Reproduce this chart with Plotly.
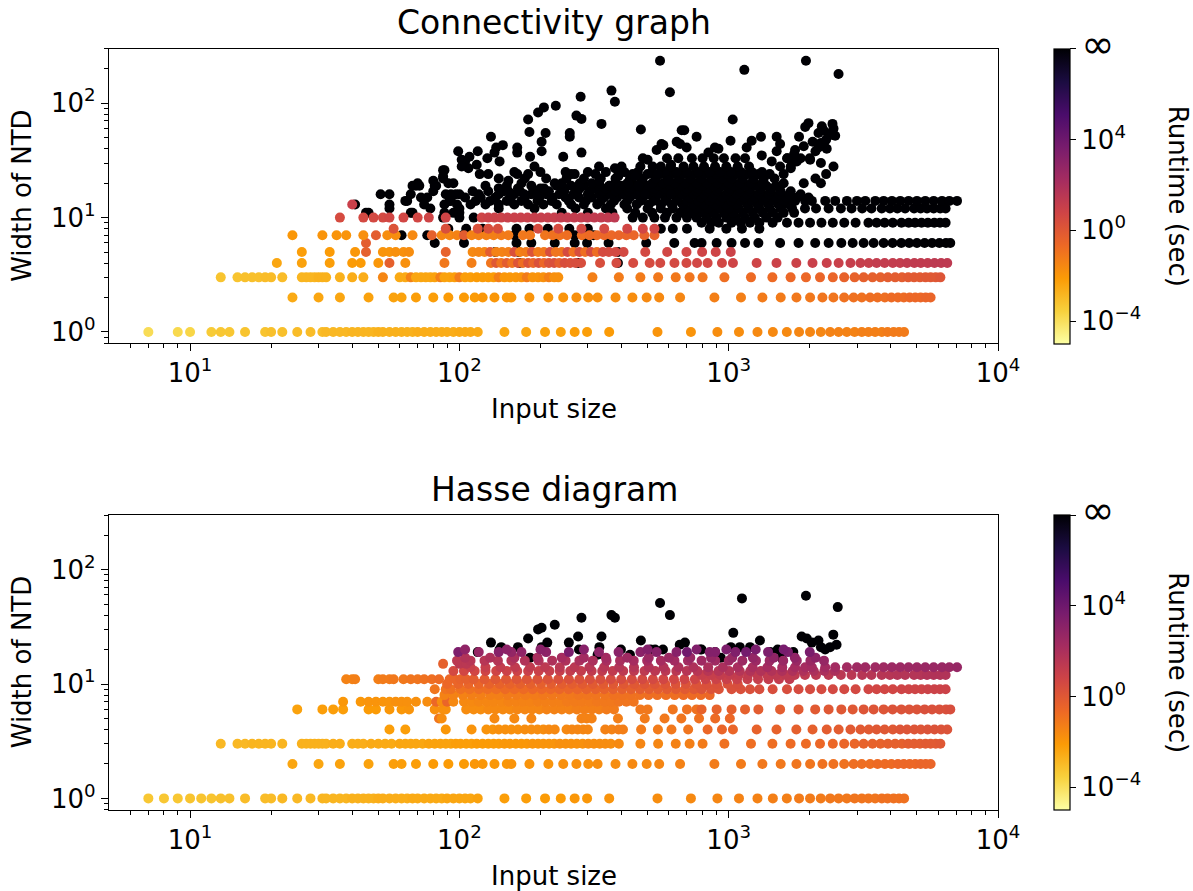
import math
import plotly.graph_objects as go

FONT = "DejaVu Sans"
TIMEOUT = 8  # log10 runtime used for runs that hit the time limit (drawn as "infinity")

# ---------------- Connectivity graph: (input size, log10 runtime) per NTD width ----------------
CONN_W1 = [(7, -3.9), (9, -3.8), (10, -3.7), (12, -3.4), (13, -3.3), (14, -3.3), (16, -3.2), (19, -3.2),
           (20, -3.1), (22, -3.1), (25, -3.0), (28, -3.0), (31, -3.0), (32, -2.9), (34, -2.9), (36, -2.9),
           (38, -2.9), (40, -2.8), (42, -2.8), (44, -2.8), (46, -2.8), (48, -2.8), (50, -2.7), (52, -2.7),
           (55, -2.7), (58, -2.7), (61, -2.7), (64, -2.7), (67, -2.7), (70, -2.6), (74, -2.6), (78, -2.6),
           (82, -2.6), (86, -2.6), (90, -2.6), (95, -2.6), (100, -2.5), (105, -2.5), (110, -2.5), (117, -2.5),
           (147, -2.4), (177, -2.4), (208, -2.3), (238, -2.3), (268, -2.2), (298, -2.2), (360, -2.1),
           (544, -1.9), (724, -1.9), (908, -1.7), (1092, -1.7), (1279, -1.6), (1459, -1.6), (1644, -1.6),
           (1825, -1.5), (2005, -1.5), (2197, -1.5), (2381, -1.4), (2559, -1.4), (2746, -1.4), (2934, -1.4),
           (3121, -1.3), (3303, -1.3), (3497, -1.3), (3704, -1.3), (3890, -1.2), (4096, -1.2), (4290, -1.2),
           (4480, -1.2)]
CONN_W2 = [(24, -2.5), (30, -2.4), (36, -2.4), (46, -2.3), (57, -2.3), (61, -2.3), (69, -2.2), (80, -2.2),
           (91, -2.1), (104, -2.1), (114, -2.1), (122, -2.0), (135, -2.0), (150, -2.0), (156, -2.0),
           (182, -1.9), (214, -1.9), (243, -1.9), (272, -1.8), (301, -1.8), (326, -1.8), (380, -1.7),
           (439, -1.7), (496, -1.6), (552, -1.6), (660, -1.5), (885, -1.3), (1111, -1.3), (1334, -1.2),
           (1560, -1.2), (1785, -1.1), (2006, -1.1), (2229, -1.0), (2448, -1.0), (2684, -0.9), (2910, -0.9),
           (3120, -0.9), (3350, -0.8), (3570, -0.8), (3800, -0.8), (4020, -0.7), (4250, -0.7), (4470, -0.7),
           (4700, -0.6), (4930, -0.6), (5160, -0.6), (5390, -0.5), (5620, -0.5)]
CONN_W3 = [(13, -3.2), (15, -3.2), (16, -3.1), (17, -3.1), (18, -3.1), (19, -3.0), (20, -3.0), (22, -3.0),
           (26, -2.8), (27, -2.8), (28, -2.8), (29, -2.8), (30, -2.7), (31, -2.7), (32, -2.7), (36, -2.7),
           (40, -2.6), (44, -2.6), (52, -1.5), (60, -2.5), (63, -2.5), (66, -1.4), (69, -2.4), (72, -2.4),
           (75, -2.4), (78, -2.4), (81, -2.3), (85, -1.3), (88, -2.3), (92, -2.3), (96, -2.2), (100, -1.2),
           (105, -2.2), (110, -2.2), (116, -2.1), (122, -2.1), (128, -2.1), (134, -2.1), (140, -1.3),
           (147, -2.0), (154, -2.0), (162, -2.0), (170, -1.9), (178, -1.2), (187, -1.9), (196, -1.9),
           (205, -1.8), (215, -1.3), (225, -1.8), (233, -1.8), (312, -1.3), (391, -1.2), (470, -1.2),
           (547, -1.1), (636, -1.1), (716, -1.0), (800, -1.0), (964, -0.8), (1210, -0.7), (1453, -0.7),
           (1698, -0.6), (1936, -0.6), (2183, -0.5), (2436, -0.5), (2684, -0.4), (2934, -0.4), (3170, -0.3),
           (3420, -0.3), (3660, -0.3), (3900, -0.2), (4150, -0.2), (4400, -0.2), (4640, -0.1), (4880, -0.1),
           (5130, -0.1), (5380, 0.0), (5620, 0.0), (5870, 0.0), (6110, 0.1)]
CONN_W4 = [(21, -2.4), (26, -2.3), (33, -2.2), (40, -2.1), (43, -2.1), (50, -2.0), (55, -0.3), (63, -1.8),
           (88, -1.1), (111, -1.3), (131, -1.0), (137, 0.0), (143, -1.0), (150, -0.2), (157, -1.0), (165, 0.1),
           (172, -0.8), (180, 0.2), (188, -0.5), (197, 0.3), (206, -0.6), (215, 0.2), (225, 0.3), (235, -0.3),
           (246, 0.4), (258, 0.3), (270, 0.4), (283, 0.4), (333, 0.4), (383, 0.5), (442, 0.5), (509, 0.5),
           (557, 0.6), (629, 0.6), (697, 0.6), (763, 0.7), (835, 0.7), (944, 0.7), (1037, 0.8), (1270, 0.8),
           (1505, 0.9), (1783, 0.9), (2048, 1.0), (2312, 1.0), (2560, 1.0), (2833, 1.1), (3085, 1.1),
           (3312, 1.1), (3543, 1.2), (3793, 1.2), (4068, 1.2), (4328, 1.2), (4595, 1.3), (4890, 1.3),
           (5170, 1.3), (5480, 1.3), (5810, 1.4), (6150, 1.4), (6480, 1.4)]
CONN_W5 = [(26, -2.2), (33, -2.1), (41, -2.0), (45, -0.3), (52, -1.9), (55, -1.9), (58, -1.8), (62, -1.8),
           (65, -1.7), (89, -0.4), (112, -1.6), (118, -1.5), (124, -1.5), (130, -0.2), (137, -1.4), (144, -1.4),
           (152, -1.3), (160, 0.3), (168, -1.3), (177, -1.2), (186, 0.2), (196, -1.2), (206, -1.1), (217, 0.4),
           (228, -1.0), (240, -1.0), (252, 0.5), (265, -0.9), (279, 0.4), (293, -0.8), (308, 0.5), (324, -0.8),
           (341, 0.5), (359, 0.5), (380, 0.6), (407, 0.6), (490, 0.6), (591, 0.7), (697, 0.7), (797, 0.8),
           (895, 0.8), (1018, 0.9)]
CONN_W6 = [(45, -0.2)]
CONN_W7 = [(24, -2.0), (31, -1.9), (35, -1.9), (38, -1.9), (44, -1.8), (49, -0.2), (54, -1.7), (58, -1.7),
           (67, -1.6), (79, -0.3), (86, -1.5), (92, -1.5), (98, -1.4), (104, -0.2), (111, -1.4), (118, -1.3),
           (126, -1.3), (134, -1.3), (143, -1.2), (152, -1.2), (172, -1.1), (183, -1.1), (208, -1.0),
           (222, -0.9), (236, -0.9), (251, -0.8), (285, -0.8), (304, -0.7), (324, -0.7), (345, -0.6),
           (367, -0.6), (391, -0.5), (417, -0.5), (444, -0.5), (486, -0.4), (530, -0.4)]
CONN_W8 = [(57, 0.2), (89, 0.3), (117, 0.3), (128, 0.4), (139, 0.4), (196, 0.5), (233, 0.5), (284, 0.6),
           (345, 0.6), (420, 0.7), (480, 0.7), (530, 0.7)]
CONN_W10 = [(36, 0.5), (44, 0.6), (48, 0.6), (52, 0.6), (55, 0.7), (62, 0.7), (70, 0.7), (77, 0.8), (89, 0.8),
            (121, 0.8), (128, 0.9), (135, 0.9), (143, 0.9), (151, 1.0), (160, 1.0), (169, 1.0), (179, 1.0),
            (190, 1.1), (201, 1.1), (213, 1.1), (225, 1.1), (238, 1.2), (252, 1.2), (267, 1.2), (283, 1.2),
            (299, 1.3), (317, 1.3), (336, 1.3), (356, 1.3), (377, 1.4)]
CONN_W13 = [(40, 1.0)]

# timed-out runs (input size only), grouped by width
CONN_TO_W6 = [104, 163, 185, 226, 268, 298, 358, 494, 628, 747, 793, 902, 1025, 1150, 1289, 1552, 1817, 2095,
              2350, 2620, 2887, 3170, 3453, 3762, 4061, 4375, 4680, 5000, 5340, 5690, 6058, 6410, 6650]
CONN_TO_W8 = [106, 122, 163, 182, 213, 256, 300, 560, 620, 700, 850, 980, 1120, 1300]
CONN_TO_W9 = [793, 860, 919, 1025, 1108, 1200, 1300, 1456, 1646, 1817, 2005, 2210, 2436, 2686, 2960, 3303,
              3543, 3793, 4068, 4380, 4660, 4920, 5200, 5490, 5800, 6090, 6390]
CONN_TO_W10 = [113, 440, 480, 530, 580, 640, 700, 760, 830, 900, 980, 1060, 1150, 1250, 1380, 1520]
CONN_TO_W11 = [95, 240, 300, 370, 450, 520, 590, 660, 730, 800, 880, 960, 1040, 1130, 1230, 1340, 1460,
               1600, 1750]
CONN_TO_W12 = [100, 140, 190, 270, 350, 420, 500, 560, 620, 690, 760, 840, 920, 1000, 1090, 1190, 1300, 1420,
               1560, 1720, 1920, 2110, 2350, 2610, 2860, 3130, 3390, 3700, 3970, 4230, 4520, 4880, 5160, 5450,
               5770, 6100, 6390]
CONN_TO_W13 = [88, 98, 110, 125, 140, 160, 180, 205, 230, 260, 290, 325, 365, 410, 455, 505, 560, 615, 675,
               740, 810, 890, 975, 1070, 1170, 1280, 1400, 1530, 1670]
CONN_TO_W14 = [93, 115, 130, 150, 170, 195, 220, 255, 295, 335, 375, 420, 470, 525, 580, 640, 700, 770, 850,
               930, 1020, 1110, 1220, 1340, 1460, 1600, 1764, 1923, 2036, 2282, 2486, 2748, 2994, 3215, 3502,
               3762, 4037, 4335, 4656, 5000, 5370, 5770, 6195, 6595, 7045]
CONN_TO_W15 = [105, 120, 136, 154, 175, 198, 222, 248, 278, 310, 345, 385, 430, 480, 535, 590, 650, 715,
               790, 870, 950, 1040, 1140, 1250, 1370, 1500, 1640, 1800, 1980]
CONN_TO_W16 = [100, 118, 140, 160, 185, 210, 235, 265, 300, 330, 365, 405, 450, 500, 550, 610, 670, 740, 810,
               890, 980, 1070, 1170, 1290, 1410, 1540, 1680, 1850]
CONN_TO_W17 = [112, 128, 146, 168, 190, 215, 245, 275, 305, 340, 380, 425, 470, 520, 575, 630, 690, 760,
               830, 910, 1000, 1100, 1200, 1310, 1430, 1560, 1700]
CONN_TO_W18 = [140, 165, 200, 245, 280, 320, 350, 390, 430, 480, 530, 580, 640, 700, 770, 840, 920, 1010,
               1100, 1200, 1320, 1440]
CONN_TO_W19 = [125, 150, 185, 230, 260, 290, 330, 360, 400, 445, 495, 550, 605, 665, 730, 800, 880, 960,
               1050, 1150, 1260, 1380, 1500]
CONN_TO_W20 = [170, 240, 280, 330, 380, 420, 470, 520, 570, 630, 690, 760, 830, 910, 1000, 1100, 1210, 1330,
               1600, 1900, 2200]
CONN_TO_W22 = [140, 175, 210, 250, 290, 335, 380, 430, 480, 535, 595, 655, 720, 790, 865, 945, 1030, 1130,
               1240, 1350, 1480, 2100]
CONN_TO_W24 = [180, 260, 320, 390, 440, 500, 560, 620, 680, 750, 820, 900, 990, 1080, 1180, 1290, 1420,
               1600, 2300]
CONN_TO_W25 = [160, 200, 300, 350, 410, 460, 520, 580, 640, 700, 770, 850, 930, 1020, 1110, 1220, 1330]
CONN_TO_W28 = [190, 330, 400, 470, 560, 610, 680, 740, 810, 890, 980, 1080, 1190, 1700, 2450]
CONN_TO_W33 = [480, 590, 650, 730, 800, 880, 960, 1060, 1150, 1650, 1850, 2000]
CONN_TO_SCATTER = [(556, 235), (605, 125), (367, 129), (378, 103), (282, 114), (228, 95), (206, 92), (196, 83),
                   (180, 72), (182, 56), (209, 55), (202, 46), (202, 38), (183, 34), (164, 41), (164, 37),
                   (131, 51), (137, 41), (145, 43), (135, 37), (141, 31), (127, 33), (117, 38), (109, 34),
                   (116, 29), (99, 38), (105, 31), (108, 27), (119, 24), (128, 24), (88, 26), (87, 22), (80, 21),
                   (82, 19), (91, 20), (93, 16), (80, 17), (70, 20), (67, 19), (66, 16), (63, 14), (55, 13),
                   (55, 16), (51, 16), (45, 11), (66, 11), (88, 11), (100, 11), (152, 17), (152, 21), (164, 24),
                   (155, 14), (174, 16), (194, 16), (206, 18), (226, 20), (243, 34), (248, 25), (268, 24),
                   (257, 51), (257, 55), (272, 78), (284, 73), (284, 37), (337, 66), (310, 20), (331, 21),
                   (378, 27), (389, 23), (362, 19), (472, 59), (500, 32), (540, 39), (563, 44), (522, 28),
                   (545, 24), (611, 29), (641, 46), (669, 58), (449, 23), (424, 20), (462, 19), (489, 16),
                   (597, 21), (611, 16), (1143, 196), (1936, 235), (2558, 180), (1035, 72), (684, 58),
                   (760, 51), (660, 44), (698, 41), (572, 43), (889, 41), (916, 40), (841, 37), (1016, 47),
                   (1217, 47), (1318, 51), (1166, 41), (1327, 35), (1507, 51), (1552, 44), (1507, 38),
                   (1445, 31), (1552, 28), (1764, 32), (1764, 39), (1825, 51), (1923, 62), (1978, 67),
                   (2155, 55), (2217, 63), (2429, 66), (2486, 52), (2312, 40), (2155, 41), (2006, 32),
                   (1790, 31), (2346, 52), (55, 12), (46, 11), (41, 13), (64, 14), (67, 11), (69, 19), (71, 19),
                   (72, 15), (76, 15), (74, 13), (78, 12), (81, 19), (87, 26), (87, 23), (95, 20), (97, 16),
                   (89, 16), (92, 14), (102, 32), (102, 28), (100, 10), (87, 10), (61, 7), (76, 7), (81, 6),
                   (91, 8), (103, 7), (160, 7), (268, 7), (290, 7), (315, 7), (136, 5), (166, 5), (388, 5),
                   (167, 4), (276, 4), (388, 4), (1700, 27), (1750, 36), (1900, 42), (2050, 46), (2200, 45),
                   (2250, 58), (2400, 55), (2450, 60), (2100, 38), (2300, 48), (2200, 30), (1650, 33)]

# ---------------- Hasse diagram ----------------
HASSE_W1 = [(7, -3.3), (8, -3.3), (9, -3.3), (10, -3.2), (11, -3.2), (12, -3.2), (13, -3.1), (14, -3.1),
            (16, -3.0), (19, -3.0), (20, -3.0), (22, -2.9), (25, -2.9), (28, -2.9), (31, -2.8), (32, -2.8),
            (34, -2.8), (36, -2.8), (38, -2.8), (40, -2.7), (42, -2.7), (44, -2.7), (46, -2.7), (48, -2.7),
            (50, -2.6), (52, -2.6), (55, -2.6), (58, -2.6), (61, -2.6), (64, -2.6), (67, -2.5), (70, -2.5),
            (74, -2.5), (78, -2.5), (82, -2.5), (86, -2.5), (90, -2.4), (95, -2.4), (100, -2.4), (105, -2.4),
            (110, -2.4), (117, -2.3), (147, -2.2), (177, -2.2), (208, -2.1), (238, -2.1), (268, -2.0),
            (298, -2.0), (360, -1.9), (544, -1.7), (724, -1.6), (908, -1.5), (1092, -1.4), (1279, -1.4),
            (1459, -1.3), (1644, -1.3), (1825, -1.2), (2005, -1.2), (2197, -1.2), (2381, -1.1), (2559, -1.1),
            (2746, -1.1), (2934, -1.0), (3121, -1.0), (3303, -1.0), (3497, -1.0), (3704, -0.9), (3890, -0.9),
            (4096, -0.9), (4290, -0.9), (4480, -0.9)]
HASSE_W2 = [(24, -2.4), (30, -2.4), (36, -2.3), (46, -2.3), (57, -2.2), (61, -2.2), (69, -2.2), (80, -2.1),
            (91, -2.1), (104, -2.1), (114, -2.0), (122, -2.0), (135, -2.0), (150, -2.0), (156, -1.9),
            (182, -1.9), (214, -1.9), (243, -1.8), (272, -1.8), (301, -1.8), (326, -1.7), (380, -1.7),
            (439, -1.6), (496, -1.6), (552, -1.5), (660, -1.4), (885, -1.2), (1111, -1.2), (1334, -1.1),
            (1560, -1.1), (1785, -1.0), (2006, -1.0), (2229, -0.9), (2448, -0.9), (2684, -0.9), (2910, -0.8),
            (3120, -0.8), (3350, -0.8), (3570, -0.7), (3800, -0.7), (4020, -0.7), (4250, -0.6), (4470, -0.6),
            (4700, -0.6), (4930, -0.6), (5160, -0.5), (5390, -0.5), (5620, -0.5)]
HASSE_W3 = [(13, -2.9), (15, -2.9), (16, -2.9), (17, -2.8), (18, -2.8), (19, -2.8), (20, -2.8), (22, -2.8),
            (26, -2.7), (27, -2.7), (28, -2.7), (29, -2.7), (30, -2.7), (31, -2.7), (32, -2.7), (34, -2.6),
            (36, -2.6), (40, -2.6), (42, -2.6), (44, -2.6), (47, -2.5), (50, -2.5), (53, -2.5), (56, -2.5),
            (60, -2.4), (63, -2.4), (66, -2.4), (69, -2.4), (73, -2.4), (77, -2.3), (81, -2.3), (85, -2.3),
            (89, -2.3), (93, -2.3), (97, -2.2), (101, -2.2), (106, -2.2), (111, -2.2), (116, -2.1), (122, -2.1),
            (128, -2.1), (134, -2.1), (140, -2.1), (147, -2.0), (154, -2.0), (162, -2.0), (170, -2.0),
            (178, -2.0), (187, -1.9), (196, -1.9), (205, -1.9), (215, -1.9), (225, -1.9), (236, -1.8),
            (248, -1.8), (260, -1.8), (273, -1.8), (287, -1.8), (301, -1.7), (316, -1.7), (332, -1.7),
            (348, -1.7), (365, -1.7), (391, -1.6), (470, -1.5), (547, -1.5), (636, -1.4), (716, -1.3),
            (800, -1.2), (964, -0.9), (1210, -0.8), (1453, -0.8), (1698, -0.7), (1936, -0.7), (2183, -0.6),
            (2436, -0.6), (2684, -0.5), (2934, -0.5), (3170, -0.4), (3420, -0.4), (3660, -0.4), (3900, -0.3),
            (4150, -0.3), (4400, -0.3), (4640, -0.2), (4880, -0.2), (5130, -0.2), (5380, -0.1), (5620, -0.1),
            (5870, -0.1), (6110, 0.0)]
HASSE_W4 = [(55, -2.2), (63, -2.2), (89, -2.0), (111, -1.9), (126, -1.9), (133, -1.9), (140, -1.8),
            (148, -1.8), (156, -1.8), (165, -1.8), (175, -1.7), (185, -1.7), (195, -1.7), (205, -1.7),
            (215, -1.6), (226, -1.6), (250, -1.6), (262, -1.5), (275, -1.5), (288, -1.5), (300, -1.5),
            (348, -1.4), (368, -1.4), (390, -1.3), (405, -1.3), (473, -1.2), (546, -1.2), (613, -1.1),
            (707, -1.0), (835, -0.6), (944, -0.5), (1037, -0.5), (1270, -0.4), (1505, -0.4), (1783, -0.3),
            (2048, -0.3), (2312, -0.2), (2560, -0.2), (2833, -0.1), (3085, -0.1), (3312, -0.1), (3543, 0.0),
            (3793, 0.0), (4068, 0.0), (4328, 0.1), (4595, 0.1), (4890, 0.1), (5170, 0.1), (5480, 0.2),
            (5810, 0.2), (6150, 0.2), (6480, 0.2)]
HASSE_W5 = [(84, -1.0), (86, -1.7), (135, -1.6), (160, -1.6), (185, -1.5), (284, -1.4), (297, -1.4),
            (310, -1.4), (388, -1.3), (488, -1.2), (578, -1.1), (667, -1.0), (776, -0.9), (891, -0.7),
            (1010, -0.6)]
HASSE_W6 = [(25, -2.3), (31, -2.2), (34, -2.2), (37, -2.2), (46, -2.1), (49, -2.1), (55, -2.0), (61, -2.0),
            (65, -1.9), (81, -1.8), (87, -1.8), (89, -1.8), (106, -1.7), (113, -1.7), (120, -1.7), (128, -1.6),
            (136, -1.6), (145, -1.6), (154, -1.6), (164, -1.5), (175, -1.5), (186, -1.5), (198, -1.5),
            (211, -1.4), (225, -1.4), (240, -1.4), (256, -1.4), (273, -1.3), (291, -1.3), (310, -1.3),
            (330, -1.3), (352, -1.2), (375, -1.2), (470, -1.1), (500, -1.1), (620, -1.0), (700, -0.9),
            (760, -0.9), (793, -0.4), (902, -0.4), (1025, -0.3), (1150, -0.3), (1289, -0.2), (1552, -0.2),
            (1817, -0.1), (2095, -0.1), (2350, 0.0), (2620, 0.0), (2887, 0.0), (3170, 0.1), (3453, 0.1),
            (3762, 0.1), (4061, 0.2), (4375, 0.2), (4680, 0.2), (5000, 0.2), (5340, 0.3), (5690, 0.3),
            (6058, 0.3), (6410, 0.3), (6650, 0.4)]
HASSE_W7 = [(37, -2.0), (43, -2.0), (46, -1.9), (49, -1.9), (52, -1.9), (55, -1.9), (58, -1.8), (61, -1.8),
            (64, -1.8), (69, -1.8), (76, -1.7), (82, -0.6), (86, -1.7), (90, -0.5), (95, -1.6), (104, -1.6),
            (111, -1.6), (118, -1.5), (126, -1.5), (134, -1.5), (143, -1.5), (152, -1.4), (162, -1.4),
            (172, -1.4), (183, -1.4), (195, -1.3), (208, -1.3), (222, -1.3), (236, -1.3), (251, -1.2),
            (268, -1.2), (285, -1.2), (304, -1.2), (324, -1.1), (345, -1.1), (367, -1.1), (391, -1.0),
            (417, -1.0), (444, -1.0)]
HASSE_W8 = [(88, -1.4), (95, -1.4), (103, -1.4), (111, -1.3), (120, -1.3), (130, -1.3), (140, -1.3),
            (151, -1.2), (163, -1.2), (176, -1.2), (190, -1.2), (205, -1.1), (221, -1.1), (238, -1.1),
            (257, -1.1), (277, -1.0), (299, -1.0), (322, -1.0), (347, -1.0), (374, -0.9), (403, -0.9),
            (434, -0.9), (468, -0.9), (504, -0.8), (543, -0.8), (585, -0.8), (630, -0.8), (679, -0.7),
            (731, -0.7), (788, -0.7), (850, -0.6)]
HASSE_W9 = [(81, -1.0), (89, -1.0), (93, -0.9), (101, -0.9), (109, -0.9), (118, -0.8), (127, -0.8),
            (137, -0.8), (148, -0.7), (160, -0.7), (173, -0.7), (187, -0.6), (202, -0.6), (218, -0.6),
            (235, -0.5), (254, -0.5), (274, -0.5), (296, -0.4), (320, -0.4), (345, -0.4), (372, -0.3),
            (402, -0.3), (434, -0.3), (469, -0.2), (506, -0.2), (546, -0.2), (590, -0.1), (637, -0.1),
            (688, -0.1), (743, 0.0), (793, 0.2), (860, 0.2), (919, 0.2), (1025, 0.3), (1108, 0.3), (1200, 0.3),
            (1300, 0.4), (1456, 0.4), (1646, 0.4), (1817, 0.5), (2005, 0.5), (2210, 0.5), (2436, 0.6),
            (2686, 0.6), (2960, 0.6), (3303, 0.7), (3543, 0.7), (3793, 0.7), (4068, 0.7), (4380, 0.8),
            (4660, 0.8), (4920, 0.8), (5200, 0.8), (5490, 0.9), (5800, 0.9), (6090, 0.9), (6390, 0.9)]
HASSE_W10 = [(90, -0.6), (99, -0.5), (108, -0.5), (118, -0.5), (129, -0.4), (141, -0.4), (154, -0.4),
             (168, -0.3), (184, -0.3), (201, -0.3), (219, -0.2), (240, -0.2), (262, -0.2), (286, -0.1),
             (313, -0.1), (342, -0.1), (373, 0.0), (408, 0.0), (446, 0.0), (487, 0.1), (532, 0.1), (581, 0.1),
             (635, 0.2), (694, 0.2), (758, 0.2), (828, 0.3), (905, 0.3), (990, 0.3), (1080, 0.4)]
HASSE_W11 = [(38, -1.4), (40, -1.4), (41, -1.3), (50, -1.3), (52, -1.2), (55, -1.2), (57, -1.1), (62, -1.1),
             (66, -1.0), (70, -1.0), (74, -0.9), (79, -0.8), (84, -0.7), (92, -0.6), (96, -0.5), (101, -0.4),
             (106, -0.3), (113, -0.2), (124, -0.1), (136, 0.0), (149, 0.0), (163, 0.1), (178, 0.1), (195, 0.2),
             (213, 0.2), (233, 0.3), (255, 0.3), (279, 0.3), (305, 0.4), (334, 0.4), (365, 0.5), (399, 0.5),
             (437, 0.5), (478, 0.6), (523, 0.6), (572, 0.7), (626, 0.7), (685, 0.8), (749, 0.8), (820, 0.9),
             (897, 0.9), (981, 1.0), (1073, 1.0), (1174, 1.1), (1285, 1.1), (1405, 1.2), (1537, 1.2),
             (1682, 1.3)]
HASSE_W12 = [(793, 1.1), (860, 1.1), (930, 1.2), (1010, 1.2), (1090, 1.2), (1180, 1.3), (1280, 1.3),
             (1390, 1.3), (1500, 1.4), (1630, 1.4), (1760, 1.4), (1920, 1.4), (2110, 1.5), (2350, 1.5),
             (2610, 1.5), (2860, 1.5), (3130, 1.6), (3390, 1.6), (3700, 1.6), (3970, 1.6), (4230, 1.7),
             (4520, 1.7), (4880, 1.7), (5160, 1.7), (5450, 1.8), (5770, 1.8), (6100, 1.8), (6390, 1.8)]
HASSE_W13 = [(95, 0.6), (104, 0.7), (114, 0.7), (125, 0.8), (137, 0.8), (150, 0.9), (164, 0.9), (180, 1.0),
             (197, 1.0), (216, 1.1), (236, 1.1), (258, 1.2), (283, 1.2), (310, 1.3), (339, 1.3), (371, 1.3),
             (406, 1.4), (445, 1.4), (487, 1.4), (533, 1.5), (583, 1.5), (639, 1.5), (699, 1.6), (765, 1.6),
             (838, 1.6), (917, 1.7), (1004, 1.7), (1099, 1.7), (1203, 1.8), (1317, 1.8), (1442, 1.8),
             (1578, 1.9), (1728, 1.9), (1891, 1.9), (2070, 2.0), (2266, 2.0), (2481, 2.0)]
HASSE_W14 = [(110, 1.0), (125, 1.1), (142, 1.2), (161, 1.3), (183, 1.3), (208, 1.4), (236, 1.5), (268, 1.5),
             (304, 1.6), (345, 1.6), (392, 1.7), (445, 1.7), (505, 1.8), (573, 1.8), (651, 1.9), (739, 1.9),
             (839, 2.0), (952, 2.0), (1081, 2.1), (1227, 2.1), (1393, 2.2), (1581, 2.2), (1764, 2.2),
             (1923, 2.2), (2036, 2.3), (2282, 2.3), (2486, 2.3), (2748, 2.3), (2994, 2.4), (3215, 2.4),
             (3502, 2.4), (3762, 2.4), (4037, 2.5), (4335, 2.5), (4656, 2.5), (5000, 2.5), (5370, 2.6),
             (5770, 2.6), (6195, 2.6), (6595, 2.6), (7045, 2.7)]
HASSE_W15 = [(87, -0.3), (100, 1.5), (106, 1.5)]
HASSE_W16 = [(98, 1.5), (110, 1.6), (124, 1.6), (139, 1.7), (156, 1.7), (175, 1.8), (197, 1.8), (221, 1.9),
             (248, 1.9), (279, 2.0), (313, 2.0), (352, 2.1), (395, 2.1), (444, 2.2), (498, 2.2), (560, 2.2),
             (629, 2.3), (706, 2.3), (793, 2.4), (891, 2.4), (1001, 2.4), (1124, 2.5), (1263, 2.5),
             (1419, 2.5), (1594, 2.6), (1790, 2.6), (2011, 2.6), (2259, 2.7)]
HASSE_W17 = [(105, 1.8), (130, 1.9), (160, 2.0), (195, 2.1), (240, 2.2), (290, 2.3), (350, 2.3), (420, 2.4),
             (505, 2.5), (600, 2.5), (720, 2.6), (860, 2.7), (1030, 2.7), (1230, 2.8), (1470, 2.9),
             (1760, 2.9), (2100, 3.0)]
HASSE_W19 = [(99, 3.5), (118, 2.7), (140, 3.2), (156, 2.8), (170, 2.9), (210, 3.0), (255, 3.6), (330, 3.0),
             (390, 3.1), (470, 3.1), (540, 3.2), (640, 3.2), (700, 3.9), (850, 3.3), (891, 3.3), (1060, 3.4),
             (1160, 3.8), (1400, 3.5), (1660, 3.5), (2000, 3.6)]
HASSE_W20 = [(105, 2.9), (150, 3.0), (200, 3.1), (290, 3.2), (500, 3.3), (760, 3.4), (980, 3.5),
             (1260, 3.6), (1600, 3.7)]
HASSE_TO_SCATTER = [(556, 51), (605, 40), (284, 38), (367, 40), (378, 38), (226, 33), (202, 31), (196, 30),
                    (180, 25), (131, 23), (143, 21), (141, 20), (117, 19), (165, 21), (202, 21), (212, 23),
                    (183, 17), (255, 23), (276, 26), (278, 20), (337, 26), (331, 21), (326, 18), (398, 20),
                    (430, 18), (472, 24), (513, 20), (533, 20), (570, 20), (658, 22), (688, 23), (783, 20),
                    (890, 19), (934, 17), (1040, 28), (1018, 21), (1120, 56), (1936, 59), (2541, 47),
                    (1306, 24), (1100, 21), (1200, 21), (1426, 19), (1520, 20), (1570, 17), (1738, 19),
                    (1866, 26), (1950, 25), (2036, 23), (2155, 24), (2200, 21), (2282, 20), (2380, 21),
                    (2446, 27), (2515, 22), (793, 20), (891, 18)]

CONN_ROWS = [(1, CONN_W1), (2, CONN_W2), (3, CONN_W3), (4, CONN_W4), (5, CONN_W5), (6, CONN_W6),
             (7, CONN_W7), (8, CONN_W8), (10, CONN_W10), (13, CONN_W13)]
CONN_TIMEOUT_ROWS = [(6, CONN_TO_W6), (8, CONN_TO_W8), (9, CONN_TO_W9), (10, CONN_TO_W10), (11, CONN_TO_W11),
                     (12, CONN_TO_W12), (13, CONN_TO_W13), (14, CONN_TO_W14), (15, CONN_TO_W15),
                     (16, CONN_TO_W16), (17, CONN_TO_W17), (18, CONN_TO_W18), (19, CONN_TO_W19),
                     (20, CONN_TO_W20), (22, CONN_TO_W22), (24, CONN_TO_W24), (25, CONN_TO_W25),
                     (28, CONN_TO_W28), (33, CONN_TO_W33)]
HASSE_ROWS = [(1, HASSE_W1), (2, HASSE_W2), (3, HASSE_W3), (4, HASSE_W4), (5, HASSE_W5), (6, HASSE_W6),
              (7, HASSE_W7), (8, HASSE_W8), (9, HASSE_W9), (10, HASSE_W10), (11, HASSE_W11), (12, HASSE_W12),
              (13, HASSE_W13), (14, HASSE_W14), (15, HASSE_W15), (16, HASSE_W16), (17, HASSE_W17),
              (19, HASSE_W19), (20, HASSE_W20)]


def collect(rows, timeout_rows, timeout_pts):
    # timeouts first so the coloured runs are drawn over them
    xs, ws, cs = [], [], []
    for w, sizes in timeout_rows:
        for x in sizes:
            xs.append(x); ws.append(w); cs.append(TIMEOUT)
    for x, w in timeout_pts:
        xs.append(x); ws.append(w); cs.append(TIMEOUT)
    for w, pts in rows:
        for x, rt in pts:
            xs.append(x); ws.append(w); cs.append(rt)
    return xs, ws, cs


W, H = 1193, 891
def px(v): return v / W
def py(v): return 1 - v / H

def colorbar(top_px):
    return dict(
        x=px(1054), xanchor="left", xpad=0, thickness=16, thicknessmode="pixels",
        len=294.5 / H, lenmode="fraction", y=py(top_px), yanchor="top", ypad=0,
        outlinecolor="black", outlinewidth=1.2,
        tickvals=[-4, 0, 4, 8],
        ticktext=["10<sup>−4</sup>", "10<sup>0</sup>", "10<sup>4</sup>",
                  "<span style='font-size:40px'>∞</span>"],
        ticks="outside", ticklen=6, tickwidth=1.2, tickcolor="black",
        tickfont=dict(family=FONT, size=26, color="black"),
    )

fig = go.Figure()
for i, (rows, to_rows, to_pts, top) in enumerate([
        (CONN_ROWS, CONN_TIMEOUT_ROWS, CONN_TO_SCATTER, 48.7),
        (HASSE_ROWS, [], HASSE_TO_SCATTER, 515)]):
    xs, ws, cs = collect(rows, to_rows, to_pts)
    sfx = "" if i == 0 else "2"
    fig.add_trace(go.Scatter(
        x=xs, y=ws, mode="markers", xaxis="x" + sfx, yaxis="y" + sfx, showlegend=False,
        marker=dict(size=10, color=cs, colorscale="Inferno", reversescale=True, cmin=-5, cmax=8,
                    line=dict(width=0), colorbar=colorbar(top)),
    ))

axis_common = dict(
    type="log", showline=True, mirror=True, linecolor="black", linewidth=1.3,
    ticks="outside", ticklen=7, tickwidth=1.3, tickcolor="black", showgrid=False, zeroline=False,
    tickfont=dict(family=FONT, size=26, color="black"),
)
x_minor = [6, 7, 8, 9, 20, 30, 40, 50, 60, 70, 80, 90, 200, 300, 400, 500, 600, 700, 800, 900,
           2000, 3000, 4000, 5000, 6000, 7000, 8000, 9000]
y_minor = [0.8, 0.9, 2, 3, 4, 5, 6, 7, 8, 9, 20, 30, 40, 50, 60, 70, 80, 90, 200, 300]
xax = dict(axis_common, range=[math.log10(5), 4], domain=[px(109), px(998)],
           tickvals=[10, 100, 1000, 10000],
           ticktext=["10<sup>1</sup>", "10<sup>2</sup>", "10<sup>3</sup>", "10<sup>4</sup>"],
           minor=dict(tickmode="array", tickvals=x_minor, ticks="outside", ticklen=4, tickwidth=1,
                      tickcolor="black", showgrid=False))
yax = dict(axis_common, range=[math.log10(0.8), math.log10(300)],
           tickvals=[1, 10, 100], ticktext=["10<sup>0</sup>", "10<sup>1</sup>", "10<sup>2</sup>"],
           minor=dict(tickmode="array", tickvals=y_minor, ticks="outside", ticklen=4, tickwidth=1,
                      tickcolor="black", showgrid=False))

annots = []
for title, top, bottom in [("Connectivity graph", 48.7, 343), ("Hasse diagram", 515, 809.5)]:
    mid = (top + bottom) / 2
    annots += [
        dict(text=title, x=px(554), y=py(top - 26), xref="paper", yref="paper", showarrow=False,
             font=dict(family=FONT, size=33, color="black"), xanchor="center", yanchor="middle"),
        dict(text="Input size", x=px(554), y=py(bottom + 66), xref="paper", yref="paper", showarrow=False,
             font=dict(family=FONT, size=26, color="black"), xanchor="center", yanchor="middle"),
        dict(text="Width of NTD", x=px(22), y=py(mid), xref="paper", yref="paper", showarrow=False,
             textangle=-90, font=dict(family=FONT, size=26, color="black"), xanchor="center", yanchor="middle"),
        dict(text="Runtime (sec)", x=px(1178), y=py(mid), xref="paper", yref="paper", showarrow=False,
             textangle=90, font=dict(family=FONT, size=26, color="black"), xanchor="center", yanchor="middle"),
    ]

fig.update_layout(
    width=W, height=H,
    # no automatic margin growth: the colorbars would otherwise squeeze the plots
    margin=dict(l=0, r=0, t=0, b=0, autoexpand=False),
    paper_bgcolor="white", plot_bgcolor="white",
    font=dict(family=FONT, color="black"),
    xaxis=dict(xax, anchor="y"),
    yaxis=dict(yax, anchor="x", domain=[py(343), py(48.7)]),
    xaxis2=dict(xax, anchor="y2"),
    yaxis2=dict(yax, anchor="x2", domain=[py(809.5), py(515)]),
    annotations=annots,
)

# drop the browser's default body margin so the 1193x891 figure fills the window exactly
page_fix = "document.body.style.margin='0';document.body.style.overflow='hidden';"
fig.write_html("out.html", config={"responsive": False, "displayModeBar": False}, post_script=page_fix)
